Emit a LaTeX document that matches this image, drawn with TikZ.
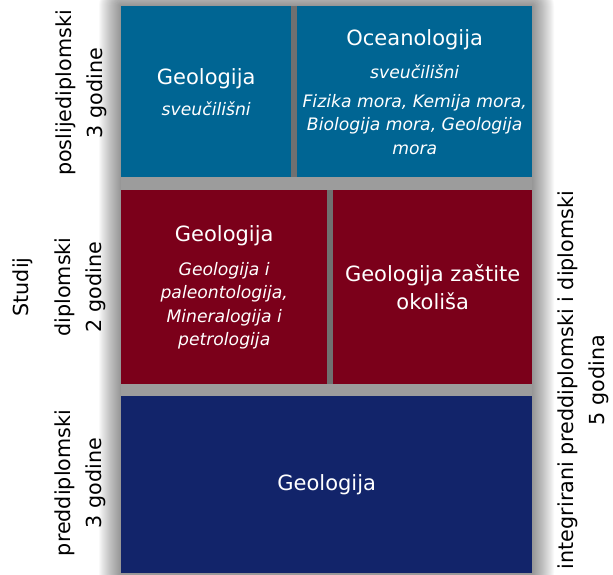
\documentclass[tikz,border=0pt]{standalone}
\usepackage{fontspec}
\setmainfont{DejaVu Sans}
\definecolor{oceanblue}{RGB}{0,101,147}
\definecolor{wine}{RGB}{123,0,26}
\definecolor{navyblue}{RGB}{18,36,106}
\definecolor{gapgray}{RGB}{156,156,156}
\definecolor{darkgap}{RGB}{112,112,112}
\begin{document}
\begin{tikzpicture}[x=1pt,y=-1pt,
  box/.style={anchor=north west, inner sep=0pt, align=center, text=white,
    font=\fontsize{17.2}{23.5}\selectfont},
  glow/.style={fill=black, opacity=0.025},
  side/.style={rotate=90, align=center, font=\fontsize{20.7}{31}\selectfont, text=black}]
\useasboundingbox (0,0) rectangle (613,574);
\begin{scope}
\clip (0,0) rectangle (613,574);
\foreach \r in {1,...,22}
  \fill[glow, rounded corners=\r pt] (121-\r,6-\r) rectangle (532+\r,573+\r);
\end{scope}
\node[anchor=north west, inner sep=0pt, fill=gapgray, minimum width=411pt, minimum height=567pt] (backdrop) at (121,6) {};
\fill[darkgap] (291,6) rectangle (297,177);
\fill[darkgap] (327,190) rectangle (333,384);
\node[box, fill=oceanblue, minimum width=170pt, minimum height=171pt] (geopost) at (121,6)
  {{\fontsize{21}{24}\selectfont Geologija}\\[7.5pt]\itshape sveučilišni};
\node[box, fill=oceanblue, minimum width=235pt, minimum height=171pt] (ocean) at (297,6)
  {{\fontsize{21}{24}\selectfont Oceanologija}\\[9.5pt]\itshape sveučilišni\\[5.5pt]
   \itshape Fizika mora, Kemija mora,\\\itshape Biologija mora, Geologija\\\itshape mora};
\node[box, fill=wine, minimum width=206pt, minimum height=194pt] (geodipl) at (121,190)
  {{\fontsize{21}{24}\selectfont Geologija}\\[10.5pt]\itshape Geologija i\\\itshape paleontologija,\\\itshape Mineralogija i\\\itshape petrologija};
\node[box, fill=wine, minimum width=199pt, minimum height=194pt, font=\fontsize{21}{28}\selectfont] (zastita) at (333,190)
  {Geologija zaštite\\okoliša};
\node[box, fill=navyblue, minimum width=411pt, minimum height=177pt, font=\fontsize{21}{24}\selectfont] (geopred) at (121,396)
  {Geologija};
\node[side] (lpost) at (81,93) {poslijediplomski\\3 godine};
\node[side] (lstudij) at (23,287) {Studij};
\node[side] (ldipl) at (80,287) {diplomski\\2 godine};
\node[side] (lpred) at (80.5,483) {preddiplomski\\3 godine};
\node[side] (linteg) at (583,380) {integrirani preddiplomski i diplomski\\5 godina};
\end{tikzpicture}
\end{document}
